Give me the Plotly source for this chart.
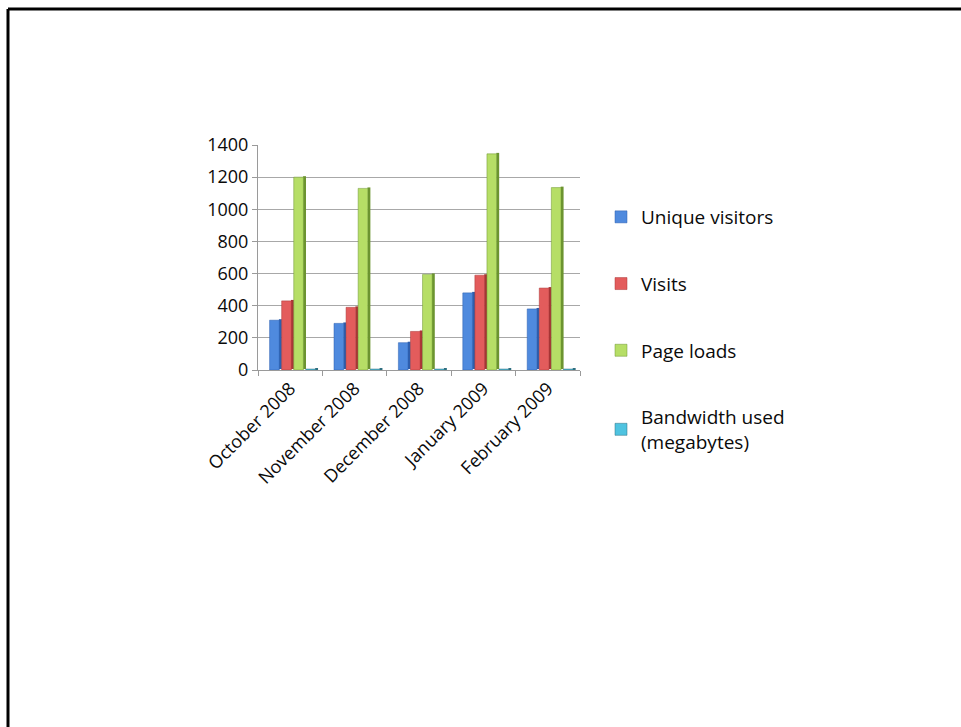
import plotly.graph_objects as go

months = ["October 2008", "November 2008", "December 2008", "January 2009", "February 2009"]
unique_visitors = [310, 290, 170, 480, 380]
visits = [430, 390, 240, 590, 510]
page_loads = [1200, 1130, 595, 1345, 1135]
bandwidth_mb = [6, 6, 6, 6, 6]

series = [
    ("Unique visitors", unique_visitors, "#4f8ade", "#2d5fae"),
    ("Visits", visits, "#e35c5c", "#a83636"),
    ("Page loads", page_loads, "#b6de66", "#6c9430"),
    ("Bandwidth used<br>(megabytes)", bandwidth_mb, "#4fc3e0", "#2f6f80"),
]

L, R, T, B = 258, 381, 145, 357
W = 961 - L - R
H = 727 - T - B

def px_x(p):
    return (p - L) / W

def px_y(p):
    return (727 - B - p) / H

SLOT = 0.1875
START = -0.32
FRONT_W = 0.15
SIDE_W = 0.045
LIFT = 6  # small vertical lift of the side face, in value units (pseudo-3D)

fig = go.Figure()
for i, (name, vals, col, side) in enumerate(series):
    off = START + i * SLOT
    fig.add_trace(go.Bar(
        x=months, y=vals, base=[LIFT] * len(vals),
        offset=off + FRONT_W - 0.005, width=SIDE_W,
        marker=dict(color=side, line=dict(width=0)),
        showlegend=False, hoverinfo="skip",
    ))
    fig.add_trace(go.Bar(
        x=months, y=vals, name=name,
        offset=off, width=FRONT_W,
        marker=dict(color=col, line=dict(color=side, width=0.5)),
        legendgroup=f"g{i}",
    ))

fig.update_layout(
    width=961, height=727,
    margin=dict(l=L, r=R, t=T, b=B, autoexpand=False),
    paper_bgcolor="white", plot_bgcolor="white",
    barmode="overlay",
    font=dict(family="'Open Sans', Lato, sans-serif", size=18, color="#0a0a0a"),
    showlegend=True,
    legend=dict(
        x=px_x(601), y=px_y(198), xanchor="left", yanchor="top",
        tracegroupgap=39, font=dict(size=19), bgcolor="rgba(0,0,0,0)",
        maxheight=400,
    ),
    xaxis=dict(
        tickangle=-45, showline=True, linecolor="#9a9a9a", linewidth=1,
        ticks="outside", tickson="boundaries", ticklen=5, tickcolor="#9a9a9a",
        showgrid=False, tickfont=dict(size=18),
    ),
    yaxis=dict(
        range=[0, 1400], dtick=200, showline=True, linecolor="#9a9a9a",
        ticks="outside", ticklen=5, tickcolor="#9a9a9a",
        showgrid=True, gridcolor="#a8a8a8", gridwidth=1, zeroline=False,
        tickfont=dict(size=18),
    ),
    shapes=[
        dict(type="line", xref="paper", yref="paper",
             x0=px_x(8), x1=px_x(1000), y0=px_y(9), y1=px_y(9),
             line=dict(color="black", width=3)),
        dict(type="line", xref="paper", yref="paper",
             x0=px_x(8), x1=px_x(8), y0=px_y(9), y1=px_y(760),
             line=dict(color="black", width=3)),
    ],
)

fig.write_html("out.html")
